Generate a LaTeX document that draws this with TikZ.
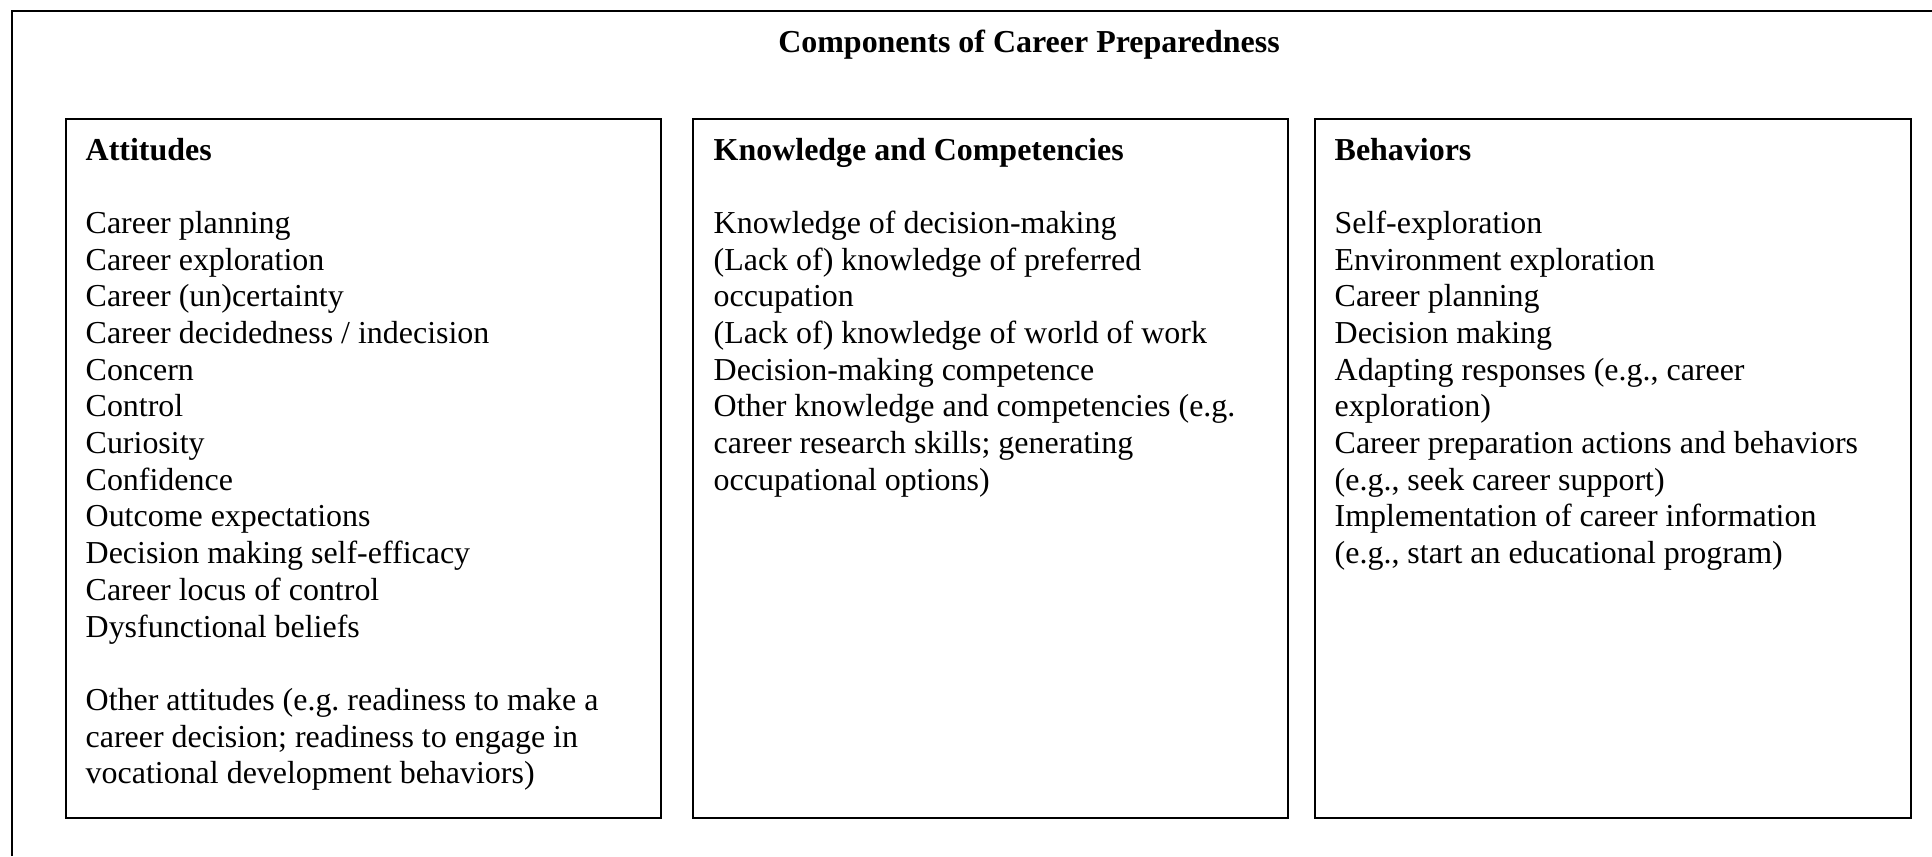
\documentclass[tikz,border=0pt]{standalone}
\usepackage{fontspec}
\setmainfont{Liberation Serif}
\usepackage{tikz}
\frenchspacing

\tikzset{
  compbox/.style={draw, line width=0.5pt, inner sep=0pt, anchor=north west,
    minimum height=6.99cm},
  compitems/.style={anchor=base west, inner sep=0pt, align=flush left, text width=5.7cm,
    font=\fontsize{9.09pt}{10.44pt}\selectfont},
}

\begin{document}
\begin{tikzpicture}
\useasboundingbox (0,0) rectangle (19.32,-8.56);
% outer frame (only left and top show)
\draw[line width=0.5pt] (0.12,-8.56) |- (19.32,-0.11);

\node (title) at (10.29,-0.52) [anchor=base, font=\fontsize{9.09pt}{10.44pt}\selectfont]
  {\textbf{Components of Career Preparedness}};

% the three boxes
\node (att) at (0.65,-1.18) [compbox, minimum width=5.95cm] {};
\node (know) at (6.92,-1.18) [compbox, minimum width=5.95cm] {};
\node (beh) at (13.14,-1.18) [compbox, minimum width=5.96cm] {};

\node (atttext) at (att.north west) [compitems, xshift=0.20cm, yshift=-0.42cm]
  {\textbf{Attitudes}\\[10.44pt]
   Career planning\\
   Career exploration\\
   Career (un)certainty\\
   Career decidedness / indecision\\
   Concern\\
   Control\\
   Curiosity\\
   Confidence\\
   Outcome expectations\\
   Decision making self-efficacy\\
   Career locus of control\\
   Dysfunctional beliefs\\[10.44pt]
   Other attitudes (e.g. readiness to make a\\
   career decision; readiness to engage in\\
   vocational development behaviors)};

\node (knowtext) at (know.north west) [compitems, xshift=0.21cm, yshift=-0.42cm]
  {\textbf{Knowledge and Competencies}\\[10.44pt]
   Knowledge of decision-making\\
   (Lack of) knowledge of preferred\\
   occupation\\
   (Lack of) knowledge of world of work\\
   Decision-making competence\\
   Other knowledge and competencies (e.g.\\
   career research skills; generating\\
   occupational options)};

\node (behtext) at (beh.north west) [compitems, xshift=0.20cm, yshift=-0.42cm]
  {\textbf{Behaviors}\\[10.44pt]
   Self-exploration\\
   Environment exploration\\
   Career planning\\
   Decision making\\
   Adapting responses (e.g., career\\
   exploration)\\
   Career preparation actions and behaviors\\
   (e.g., seek career support)\\
   Implementation of career information\\
   (e.g., start an educational program)};
\end{tikzpicture}
\end{document}
